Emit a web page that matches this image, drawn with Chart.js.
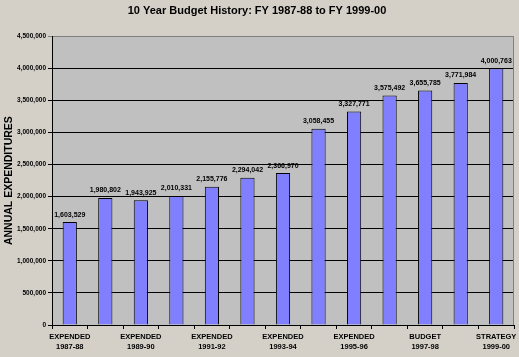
<!DOCTYPE html>
<html>
<head>
<meta charset="utf-8">
<script src="https://cdn.jsdelivr.net/npm/chart.js@4/dist/chart.umd.min.js"></script>
<style>
  html, body { margin: 0; padding: 0; background: #D4D0C8; }
  #wrap { width: 519px; height: 357px; }
</style>
</head>
<body>
<div id="wrap"><canvas id="c" width="519" height="357"></canvas></div>
<script>
const chartTitle = '10 Year Budget History: FY 1987-88 to FY 1999-00';
const yAxisTitle = 'ANNUAL EXPENDITURES';
const fiscalYears = ['1987-88','1988-89','1989-90','1990-91','1991-92','1992-93','1993-94','1994-95','1995-96','1996-97','1997-98','1998-99','1999-00'];
const yearTypes = ['EXPENDED','EXPENDED','EXPENDED','EXPENDED','EXPENDED','EXPENDED','EXPENDED','EXPENDED','EXPENDED','EXPENDED','BUDGET','BUDGET','STRATEGY'];
const expenditures = [1603529, 1980802, 1943925, 2010331, 2155776, 2294042, 2366970, 3058455, 3327771, 3575492, 3655785, 3771984, 4000763];
const yMin = 0, yMax = 4500000, yStep = 500000;

const fmt = v => v.toLocaleString('en-US');
const labels = fiscalYears.map((y, i) => i % 2 === 0 ? [yearTypes[i], y] : ['', '']);

const plotBg = {
  id: 'plotBg',
  beforeDraw(chart) {
    const { ctx, chartArea: a } = chart;
    ctx.save();
    ctx.fillStyle = '#C0C0C0';
    ctx.fillRect(a.left, a.top, a.right - a.left, a.bottom - a.top);
    ctx.restore();
  },
  afterDraw(chart) {
    const { ctx, chartArea: a } = chart;
    ctx.save();
    ctx.strokeStyle = '#808080';
    ctx.lineWidth = 1;
    ctx.beginPath();
    ctx.moveTo(a.right - 0.5, a.top);
    ctx.lineTo(a.right - 0.5, a.bottom);
    ctx.stroke();
    ctx.restore();
  }
};

const valueLabels = {
  id: 'valueLabels',
  afterDatasetsDraw(chart) {
    const { ctx } = chart;
    const meta = chart.getDatasetMeta(0);
    ctx.save();
    ctx.fillStyle = '#000';
    ctx.font = 'bold 7px "Liberation Sans", Arial, sans-serif';
    ctx.textAlign = 'center';
    ctx.textBaseline = 'bottom';
    meta.data.forEach((bar, i) => {
      ctx.fillText(fmt(chart.data.datasets[0].data[i]), bar.x, bar.y - 4);
    });
    ctx.restore();
  }
};

new Chart(document.getElementById('c'), {
  type: 'bar',
  data: {
    labels: labels,
    datasets: [{
      data: expenditures,
      backgroundColor: '#8080FF',
      borderColor: '#000000',
      borderWidth: 1,
      barPercentage: 0.4,
      categoryPercentage: 1.0
    }]
  },
  options: {
    responsive: false,
    animation: false,
    layout: { padding: { left: 0, right: 5, top: 0, bottom: 0 } },
    plugins: {
      legend: { display: false },
      tooltip: { enabled: false },
      title: {
        display: true,
        text: chartTitle,
        color: '#000',
        font: { family: '"Liberation Sans", Arial, sans-serif', size: 11, weight: 'bold' },
        padding: { top: 4, bottom: 19 }
      }
    },
    scales: {
      x: {
        offset: true,
        grid: { display: true, drawOnChartArea: false, drawTicks: true, tickLength: 4, color: '#000', offset: true },
        border: { color: '#000', width: 1 },
        ticks: {
          color: '#000',
          autoSkip: false,
          maxRotation: 0,
          padding: 2,
          font: { family: '"Liberation Sans", Arial, sans-serif', size: 7.5, weight: 'bold', lineHeight: 1.45 }
        },
        afterFit(s) { s.height = 32; }
      },
      y: {
        min: yMin,
        max: yMax,
        grid: {
          color: ctx => (ctx.tick && ctx.tick.value === yMax) ? '#808080' : '#000',
          tickLength: 4,
          drawTicks: true
        },
        border: { color: '#000', width: 1 },
        ticks: {
          stepSize: yStep,
          color: '#000',
          padding: 2,
          callback: v => fmt(v),
          font: { family: '"Liberation Sans", Arial, sans-serif', size: 6.5, weight: 'bold' }
        },
        title: {
          display: true,
          text: yAxisTitle,
          color: '#000',
          font: { family: '"Liberation Sans", Arial, sans-serif', size: 10.5, weight: 'bold' },
          padding: { top: 3, bottom: 0 }
        },
        afterFit(s) { s.width = 52; }
      }
    }
  },
  plugins: [plotBg, valueLabels]
});
</script>
</body>
</html>
